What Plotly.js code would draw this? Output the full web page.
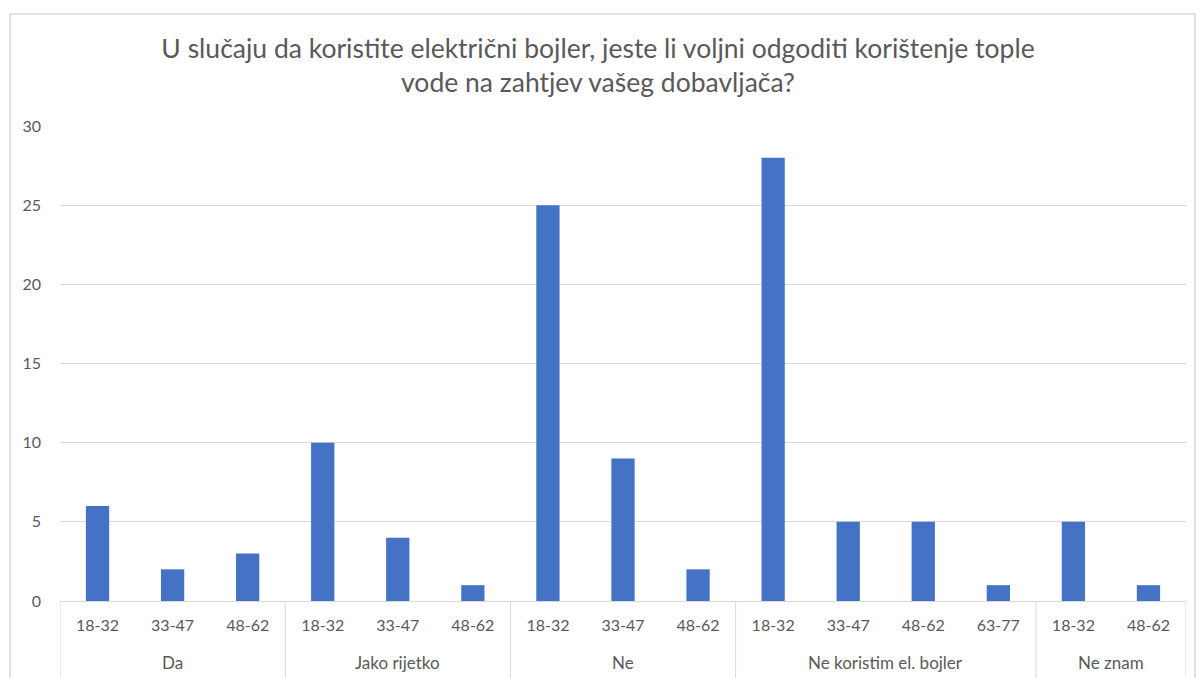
<!DOCTYPE html>
<html>
<head>
<meta charset="utf-8">
<script src="https://cdn.plot.ly/plotly-3.0.1.min.js"></script>
<style>html,body{margin:0;padding:0;background:#fff;}#chart{width:1196px;height:678px;}</style>
</head>
<body>
<div id="chart"></div>
<script>
const groups = ["Da","Da","Da","Jako rijetko","Jako rijetko","Jako rijetko","Ne","Ne","Ne","Ne koristim el. bojler","Ne koristim el. bojler","Ne koristim el. bojler","Ne koristim el. bojler","Ne znam","Ne znam"];
const ageGroups = ["18-32","33-47","48-62","18-32","33-47","48-62","18-32","33-47","48-62","18-32","33-47","48-62","63-77","18-32","48-62"];
const counts = [6,2,3,10,4,1,25,9,2,28,5,5,1,5,1];
const titleText = "U slučaju da koristite električni bojler, jeste li voljni odgoditi korištenje tople<br>vode na zahtjev vašeg dobavljača?";

const W = 1196, H = 678;
const L = 60, R = 10, T = 126, B = 77;
const pw = W - L - R, ph = H - T - B;
const fam = "Lato, 'Noto Sans', sans-serif";
const grey = "#595959", lineCol = "#d9d9d9";

const idx = counts.map((_, i) => i);

// group spans derived from the groups array
const spans = [];
groups.forEach((g, i) => {
  const last = spans[spans.length - 1];
  if (last && last.name === g) last.end = i; else spans.push({name: g, start: i, end: i});
});

const annotations = spans.map(s => ({
  xref: "x", yref: "paper",
  x: (s.start + s.end) / 2, y: (H - B - 662) / ph,
  yanchor: "middle", xanchor: "center",
  text: s.name, showarrow: false,
  font: {family: fam, size: 17, color: grey}
}));

const shapes = [{
  type: "rect", xref: "paper", yref: "paper",
  x0: (10 - L) / pw, x1: (1195 - L) / pw,
  y0: -0.5, y1: (H - B - 14) / ph,
  line: {color: lineCol, width: 1.5}, fillcolor: "rgba(0,0,0,0)", layer: "below"
}];
const bounds = [spans[0].start - 0.5].concat(spans.map(s => s.end + 0.5));
bounds.forEach(b => shapes.push({
  type: "line", xref: "x", yref: "paper",
  x0: b, x1: b, y0: 0, y1: (H - B - H - 5) / ph,
  line: {color: lineCol, width: 1}
}));

const trace = {
  type: "bar",
  x: idx,
  y: counts,
  customdata: groups,
  marker: {color: "#4472c4"},
  width: 0.31,
  hoverinfo: "y"
};

const layout = {
  width: W, height: H,
  margin: {l: L, r: R, t: T, b: B, pad: 0},
  paper_bgcolor: "#fff", plot_bgcolor: "#fff",
  font: {family: fam, color: grey, size: 16},
  showlegend: false,
  title: {
    text: titleText,
    font: {family: fam, size: 26.5, color: grey},
    x: 0.5, xanchor: "center",
    y: 1 - 58 / H, yanchor: "middle", yref: "container"
  },
  xaxis: {
    type: "linear",
    range: [-0.5, counts.length - 0.5],
    tickmode: "array", tickvals: idx, ticktext: ageGroups,
    showgrid: false, zeroline: false,
    showline: true, linecolor: lineCol, linewidth: 1,
    ticks: "", ticklabelstandoff: 10,
    tickfont: {family: fam, size: 16, color: grey}
  },
  yaxis: {
    range: [0, 30],
    dtick: 5, tick0: 0,
    showgrid: true, gridcolor: lineCol, gridwidth: 1,
    zeroline: false, showline: false, ticks: "",
    ticklabelstandoff: 18,
    tickfont: {family: fam, size: 16, color: grey}
  },
  shapes: shapes,
  annotations: annotations
};

Plotly.newPlot("chart", [trace], layout, {displayModeBar: false, staticPlot: true});
</script>
</body>
</html>
